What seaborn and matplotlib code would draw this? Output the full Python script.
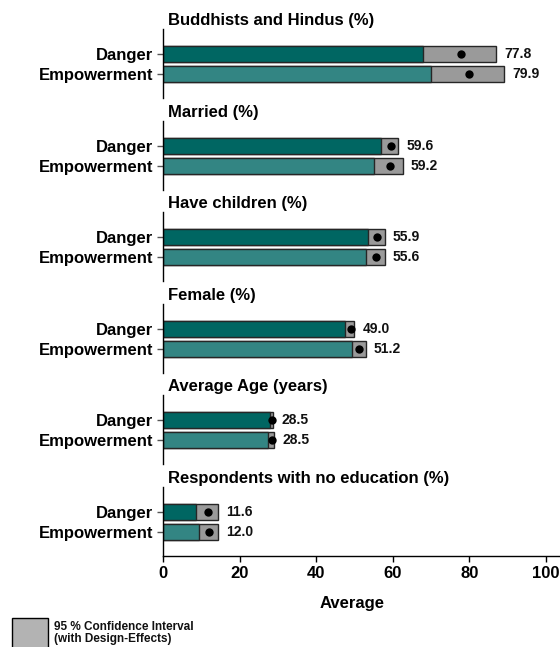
import numpy as np
import pandas as pd
import matplotlib
matplotlib.use("Agg")
import matplotlib.pyplot as plt
import seaborn as sns
from matplotlib.patches import Rectangle

# --- datos ---
titles = ["Buddhists and Hindus (%)", "Married (%)", "Have children (%)",
          "Female (%)", "Average Age (years)", "Respondents with no education (%)"]
groups = ["Danger", "Empowerment"]

danger_mean = [77.8, 59.6, 55.9, 49.0, 28.5, 11.6]
danger_lo = [67.8, 57.0, 53.6, 47.4, 27.8, 8.7]
danger_hi = [87.1, 61.4, 57.9, 50.0, 28.8, 14.4]

emp_mean = [79.9, 59.2, 55.6, 51.2, 28.5, 12.0]
emp_lo = [70.0, 55.2, 53.0, 49.3, 27.4, 9.3]
emp_hi = [89.2, 62.6, 57.9, 52.9, 29.0, 14.4]

x_ticks = [0, 20, 40, 60, 80, 100]

# --- estilo ---
sns.set_style("white")
plt.rcParams.update({
    "font.family": ["Liberation Sans", "DejaVu Sans"],
    "font.weight": "bold",
    "text.color": "black",
    "axes.labelcolor": "black",
    "xtick.color": "black",
    "ytick.color": "black",
})

TEAL_DARK = "#006662"
TEAL_LIGHT = "#338583"
CI_GRAY = "#9a9a9a"
EDGE = "#262626"

W, H = 560, 647
left_px = 163.2
px_per_unit = 3.825
panel_h = 69

fig = plt.figure(figsize=(W / 100, H / 100), dpi=100)

for i, title in enumerate(titles):
    top = 29 + 91.6 * i
    ax = fig.add_axes([left_px / W, 1 - (top + panel_h) / H,
                       (W - left_px) / W, panel_h / H])

    df = pd.DataFrame({
        "group": groups,
        "mean": [danger_mean[i], emp_mean[i]],
        "lo": [danger_lo[i], emp_lo[i]],
        "hi": [danger_hi[i], emp_hi[i]],
    })

    # caja gris = intervalo de confianza, barra teal hasta el limite inferior
    sns.barplot(data=df, x="hi", y="group", hue="group", palette=[CI_GRAY, CI_GRAY],
                saturation=1, width=0.8, edgecolor=EDGE, linewidth=1, legend=False, ax=ax)
    sns.barplot(data=df, x="lo", y="group", hue="group", palette=[TEAL_DARK, TEAL_LIGHT],
                saturation=1, width=0.8, edgecolor=EDGE, linewidth=1, legend=False, ax=ax)
    sns.stripplot(data=df, x="mean", y="group", color="black", jitter=False,
                  size=6, zorder=4, ax=ax)

    for j, row in df.iterrows():
        ax.text(row["hi"] + 2.1, j, f"{row['mean']:.1f}", va="center", ha="left",
                fontsize=10, color="#111111")

    ax.set_xlim(0, (W - left_px) / px_per_unit)
    ax.set_ylim(2.2, -1.25)
    ax.set_ylabel("")
    ax.set_xlabel("")

    ax.text(0.012, 1 + 8.5 / panel_h, title, transform=ax.transAxes,
            va="center", ha="left", fontsize=12, fontweight="bold")

    ax.tick_params(axis="y", length=4.3, width=1, color="#555555", pad=3,
                   labelsize=12, left=True)
    for spine in ["top", "right"]:
        ax.spines[spine].set_visible(False)
    ax.spines["left"].set_color("black")
    ax.spines["left"].set_linewidth(1)

    if i < len(titles) - 1:
        ax.spines["bottom"].set_visible(False)
        ax.set_xticks([])
    else:
        ax.spines["bottom"].set_color("black")
        ax.spines["bottom"].set_linewidth(1)
        ax.set_xticks(x_ticks)
        ax.set_xticklabels([str(t) for t in x_ticks])
        ax.tick_params(axis="x", length=4.3, width=1, color="black", pad=3,
                       labelsize=12, bottom=True)
        ax.set_xlabel("Average", fontsize=12, fontweight="bold")
        ax.xaxis.set_label_coords((352 - left_px) / (W - left_px), -(596 - 556) / panel_h)

# leyenda
fig.patches.append(Rectangle((12 / W, -0.02), 36 / W, (H - 618) / H + 0.02,
                             transform=fig.transFigure, facecolor="#b3b3b3",
                             edgecolor="black", linewidth=1))
fig.text(54 / W, 1 - 627 / H, "95 % Confidence Interval", fontsize=8.5,
         va="center", ha="left", color="#111111")
fig.text(54 / W, 1 - 639 / H, "(with Design-Effects)", fontsize=8.5,
         va="center", ha="left", color="#111111")

fig.savefig("out.png", dpi=100)
